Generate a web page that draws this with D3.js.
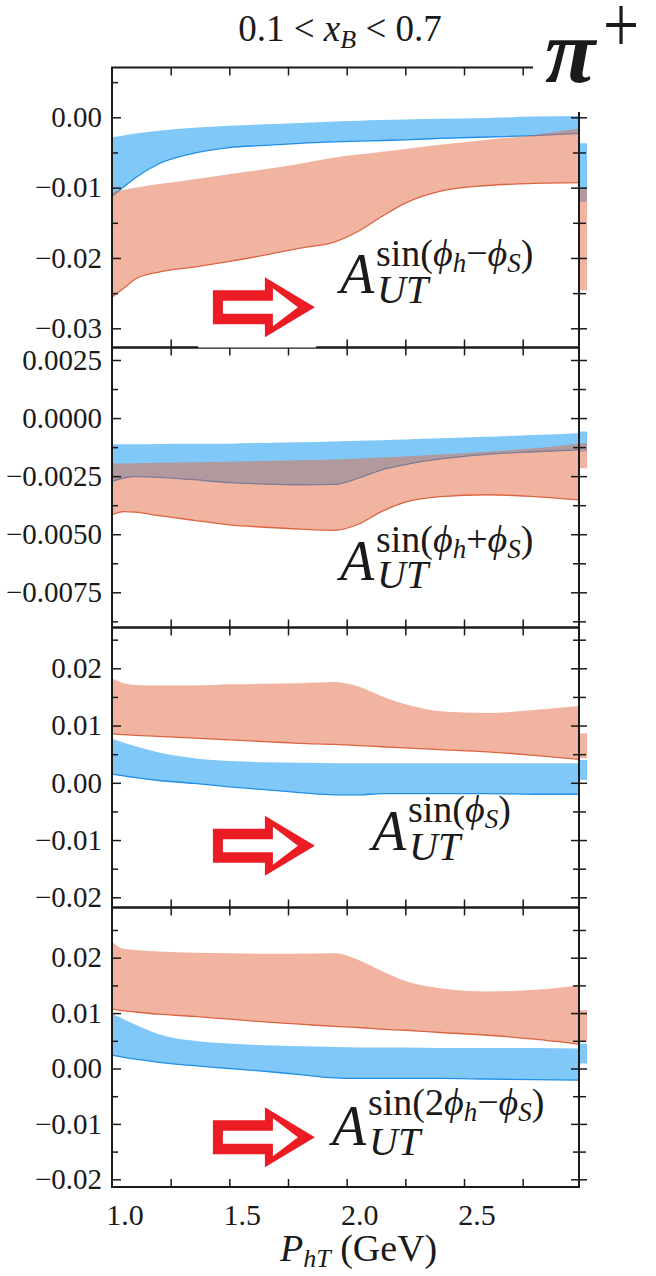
<!DOCTYPE html>
<html><head><meta charset="utf-8">
<script src="https://cdn.jsdelivr.net/npm/d3@7"></script>
<style>
body{margin:0;background:#fff;}
svg{display:block;}
text{font-family:"Liberation Serif","Times New Roman",serif;fill:#1a1a1a;}
</style>
</head><body>
<svg id="c" width="656" height="1276"></svg>
<script>
// ---------------- data ----------------
const pht = [1.0,1.05,1.1,1.2,1.35,1.5,1.65,1.8,1.95,2.05,2.15,2.25,2.4,2.6,2.8,2.99];

// panel 1 : A_UT^{sin(phi_h - phi_S)}
const p1BlueHi = [-0.00285,-0.0026,-0.0023,-0.0019,-0.0015,-0.0012,-0.0010,-0.0008,-0.0006,-0.0005,-0.0004,-0.0003,-0.0002,-0.0001,0.0001,0.0002];
const p1BlueLo = [-0.0112,-0.0099,-0.0086,-0.0066,-0.0051,-0.0043,-0.0040,-0.0037,-0.0035,-0.0034,-0.0033,-0.0032,-0.0030,-0.0028,-0.0026,-0.0023];
const p1RedHi  = [-0.0106,-0.0103,-0.0100,-0.0095,-0.0088,-0.0081,-0.0074,-0.0066,-0.0057,-0.0053,-0.0049,-0.0045,-0.0039,-0.0032,-0.0025,-0.0016];
const p1RedLo  = [-0.0256,-0.0243,-0.0230,-0.0220,-0.0213,-0.0205,-0.0196,-0.0186,-0.0177,-0.0162,-0.0141,-0.0122,-0.0105,-0.0097,-0.0094,-0.0093];

// panel 2 : A_UT^{sin(phi_h + phi_S)}
const p2BlueHi = [-0.00113,-0.00113,-0.00113,-0.00112,-0.00111,-0.00110,-0.00107,-0.00104,-0.00101,-0.00098,-0.00095,-0.00092,-0.00087,-0.00080,-0.00073,-0.00065];
const p2BlueLo = [-0.00273,-0.00258,-0.00252,-0.00255,-0.00265,-0.00278,-0.00284,-0.00287,-0.00285,-0.00259,-0.00223,-0.00200,-0.00176,-0.00156,-0.00145,-0.00137];
const p2RedHi  = [-0.00195,-0.00195,-0.00194,-0.00192,-0.00190,-0.00188,-0.00185,-0.00182,-0.00178,-0.00174,-0.00170,-0.00165,-0.00157,-0.00145,-0.00130,-0.00110];
const p2RedLo  = [-0.00417,-0.00403,-0.00405,-0.00420,-0.00440,-0.00460,-0.00470,-0.00478,-0.00483,-0.00457,-0.00402,-0.00362,-0.00338,-0.00330,-0.00338,-0.00352];

// panel 3 : A_UT^{sin(phi_S)}
const p3BlueHi = [0.0077,0.0070,0.0064,0.0053,0.0043,0.0038,0.0036,0.0035,0.0034,0.0034,0.0034,0.0034,0.0034,0.0034,0.0034,0.0034];
const p3BlueLo = [0.0015,0.0012,0.0009,0.0004,-0.0001,-0.0007,-0.0012,-0.0017,-0.0021,-0.0021,-0.0019,-0.0019,-0.0019,-0.0019,-0.0020,-0.0020];
const p3RedHi  = [0.0182,0.0174,0.0171,0.0170,0.0170,0.0172,0.0173,0.0174,0.0176,0.0168,0.0151,0.0137,0.0125,0.0122,0.0127,0.0134];
const p3RedLo  = [0.0086,0.0084,0.0083,0.0081,0.0078,0.0075,0.0072,0.0069,0.0067,0.0065,0.0063,0.0061,0.0058,0.0054,0.0048,0.0041];

// panel 4 : A_UT^{sin(2phi_h - phi_S)}
const p4BlueHi = [0.0099,0.0089,0.0079,0.0062,0.0050,0.0045,0.0042,0.0040,0.0039,0.0038,0.0038,0.0038,0.0037,0.0037,0.0037,0.0036];
const p4BlueLo = [0.0024,0.0020,0.0017,0.0011,0.0005,0.0000,-0.0005,-0.0011,-0.0017,-0.0018,-0.0018,-0.0018,-0.0018,-0.0019,-0.0020,-0.0021];
const p4RedHi  = [0.0229,0.0216,0.0214,0.0211,0.0209,0.0208,0.0207,0.0207,0.0208,0.0196,0.0176,0.0158,0.0145,0.0139,0.0142,0.0150];
const p4RedLo  = [0.0107,0.0104,0.0102,0.0098,0.0094,0.0089,0.0084,0.0080,0.0076,0.0074,0.0071,0.0069,0.0065,0.0060,0.0053,0.0044];

// bands of the neighbouring (cropped) panel, visible as slivers at the right edge
const nextBlueLo = [-0.0120,-0.00144,0.0005,0.0009];
const nextBlueHi = [-0.0037,-0.00058,0.0040,0.0045];
const nextRedLo  = [-0.0246,-0.00216,0.0043,0.0048];
const nextRedHi  = [-0.0101,-0.00108,0.0086,0.0105];

// axes
const xDomain = [1.0, 2.99];
const xTickVals = [1.0,1.5,2.0,2.5];
const xTickLabels = ["1.0","1.5","2.0","2.5"];
const xMinorVals = [1.25,1.5,1.75,2.0,2.25,2.5,2.75];

const yDomains = [[-0.03273,0.00708],[-0.009015,0.003038],[-0.02178,0.027127],[-0.02139,0.02906]];
const yTickVals = [[0.00,-0.01,-0.02,-0.03],[0.0025,0.0,-0.0025,-0.005,-0.0075],[0.02,0.01,0.0,-0.01,-0.02],[0.02,0.01,0.0,-0.01,-0.02]];
const yTickLabels = [["0.00","\u22120.01","\u22120.02","\u22120.03"],
                     ["0.0025","0.0000","\u22120.0025","\u22120.0050","\u22120.0075"],
                     ["0.02","0.01","0.00","\u22120.01","\u22120.02"],
                     ["0.02","0.01","0.00","\u22120.01","\u22120.02"]];
const yMinorVals = [[0.005,-0.005,-0.015,-0.025],[0.00125,-0.00125,-0.00375,-0.00625,-0.00875],
                    [0.025,0.015,0.005,-0.005,-0.015],[0.025,0.015,0.005,-0.005,-0.015]];

// red arrow annotations (data coords), panel index
const arrowPanels = [0,2,3];
const arrowX = [1.43,1.43,1.43];
const arrowY = [-0.0270,-0.0110,-0.0124];

// ---------------- layout ----------------
const L = 112, R = 579;
const tops = [67.5,347.5,627.5,907.5];
const bots = [347.5,627.5,907.5,1187];
const blueFill = "rgba(1,145,241,0.5)", redFill = "rgba(225,105,65,0.5)";
const blueLine = "#1f8fe8", redLine = "#dc6440";
const axisCol = "#1a1a1a";
const FONT = '"Liberation Serif","Times New Roman",serif';

const bands = [
  [p1BlueLo,p1BlueHi,p1RedLo,p1RedHi],
  [p2BlueLo,p2BlueHi,p2RedLo,p2RedHi],
  [p3BlueLo,p3BlueHi,p3RedLo,p3RedHi],
  [p4BlueLo,p4BlueHi,p4RedLo,p4RedHi]
];

const svg = d3.select("#c");
const x = d3.scaleLinear().domain(xDomain).range([L,R]);
const xN = d3.scaleLinear().domain([0,1]).range([R, R+8]);

const defs = svg.append("defs");

bands.forEach((b,i) => {
  const y = d3.scaleLinear().domain(yDomains[i]).range([bots[i],tops[i]]);
  const g = svg.append("g");
  defs.append("clipPath").attr("id","cp"+i).append("rect")
    .attr("x",L).attr("y",tops[i]).attr("width",R-L).attr("height",bots[i]-tops[i]);
  defs.append("clipPath").attr("id","cn"+i).append("rect")
    .attr("x",R).attr("y",tops[i]).attr("width",8).attr("height",bots[i]-tops[i]);
  const pg = g.append("g").attr("clip-path","url(#cp"+i+")");
  const [bl,bh,rl,rh] = b;
  const idx = d3.range(pht.length);
  const area = (lo,hi) => d3.area().curve(d3.curveMonotoneX)
      .x(k=>x(pht[k])).y0(k=>y(lo[k])).y1(k=>y(hi[k]))(idx);
  const line = (v) => d3.line().curve(d3.curveMonotoneX).x(k=>x(pht[k])).y(k=>y(v[k]))(idx);
  pg.append("path").attr("d",area(bl,bh)).attr("fill",blueFill);
  pg.append("path").attr("d",line(bl)).attr("fill","none").attr("stroke",blueLine).attr("stroke-width",1.3);
  pg.append("path").attr("d",area(rl,rh)).attr("fill",redFill);
  pg.append("path").attr("d",line(rl)).attr("fill","none").attr("stroke",redLine).attr("stroke-width",1.3);

  // neighbour slivers
  const ng = g.append("g").attr("clip-path","url(#cn"+i+")");
  const flat = (lo,hi) => d3.area().x(d=>xN(d)).y0(()=>y(lo)).y1(()=>y(hi))([0,1]);
  ng.append("path").attr("d",flat(nextBlueLo[i],nextBlueHi[i])).attr("fill",blueFill);
  ng.append("path").attr("d",flat(nextRedLo[i],nextRedHi[i])).attr("fill",redFill);

  // axes
  const styleAx = sel => { sel.attr("font-family",FONT); sel.select(".domain").remove(); sel.selectAll("line").attr("stroke",axisCol).attr("stroke-width",1.5); };
  g.append("g").attr("transform",`translate(${L},0)`)
    .call(d3.axisLeft(y).tickValues(yTickVals[i]).tickSize(-9).tickPadding(10).tickFormat((d,j)=>yTickLabels[i][j]))
    .call(styleAx)
    .call(s=>s.selectAll("text").style("font-family",FONT).style("font-size","29px").attr("fill","#1a1a1a"));
  g.append("g").attr("transform",`translate(${L},0)`)
    .call(d3.axisLeft(y).tickValues(yMinorVals[i]).tickSize(-6).tickFormat("")).call(styleAx);
  // right axis: ticks on both sides (shared with cropped neighbour panel)
  [[-8,yTickVals[i]],[-6,yMinorVals[i]],[8,yTickVals[i]],[7,yMinorVals[i]]].forEach(([s,vals])=>{
    g.append("g").attr("transform",`translate(${R},0)`)
      .call(d3.axisRight(y).tickValues(vals).tickSize(s).tickFormat("")).call(styleAx);
  });
  g.append("g").attr("transform",`translate(0,${tops[i]})`)
    .call(d3.axisTop(x).tickValues(xMinorVals).tickSize(-8).tickFormat("")).call(styleAx);
  g.append("g").attr("transform",`translate(0,${bots[i]})`)
    .call(d3.axisBottom(x).tickValues(xMinorVals).tickSize(-8).tickFormat("")).call(styleAx);
  g.append("rect").attr("x",L).attr("y",tops[i]).attr("width",R-L).attr("height",bots[i]-tops[i])
    .attr("fill","none").attr("stroke",axisCol).attr("stroke-width",2);

  // arrows
  const ai = arrowPanels.indexOf(i);
  if (ai >= 0) {
    const ax = x(arrowX[ai]), ay = y(arrowY[ai]);
    const outer = [[0,-17],[52,-17],[52,-30],[102,0],[52,30],[52,17],[0,17]];
    const inner = [[10,-6.5],[60,-6.5],[60,-19],[85,0],[60,19],[60,6.5],[10,6.5]];
    const lp = d3.line();
    g.append("path").attr("d",lp(outer.map(p=>[ax+p[0],ay+p[1]]))+"Z").attr("fill","#ec1c24");
    g.append("path").attr("d",lp(inner.map(p=>[ax+p[0],ay+p[1]]))+"Z").attr("fill","#fff");
  }
});

// erased stretch of the panel-1 bottom border (thin line only, as in the reference)
svg.append("rect").attr("x",x(1.367)).attr("y",339).attr("width",x(1.87)-x(1.367)).attr("height",bots[0]-339).attr("fill","#fff");

// x tick labels (shifted right in the reference)
const xl = svg.append("g");
xTickVals.forEach((v,j)=>{
  xl.append("text").attr("x",x(v)+13).attr("y",1225).attr("text-anchor","middle")
    .style("font-size","30px").text(xTickLabels[j]);
});

// math text helper
function mathText(x0,y0,segs,anchor){
  const t = svg.append("text").attr("x",x0).attr("y",y0);
  if (anchor) t.attr("text-anchor",anchor);
  let cur = 0;
  segs.forEach(s=>{
    const sh = s.sh||0;
    const ts = t.append("tspan").attr("dy",sh-cur).style("font-size",s.fs+"px").text(s.t);
    if (s.it) ts.style("font-style","italic");
    if (s.dx) ts.attr("dx",s.dx);
    cur = sh;
  });
  return t;
}

// title
mathText(340,41,[{t:"0.1 < ",fs:37},{t:"x",fs:37,it:1},{t:"B",fs:26,it:1,sh:7},{t:" < 0.7",fs:37}],"middle");

// x axis title
mathText(280,1261,[{t:"P",fs:38,it:1},{t:"hT",fs:26,it:1,sh:6},{t:" (GeV)",fs:38}]);

// asymmetry labels
function asym(ax,ay,sup,supDy,subDy){
  mathText(ax,ay,[{t:"A",fs:56,it:1}]);
  mathText(ax+36,ay-supDy,sup);
  mathText(ax+37,ay+subDy,[{t:"UT",fs:40,it:1}]);
}
const S = 38, s2 = 27;
asym(340,293,[{t:"sin(",fs:S},{t:"\u03d5",fs:S,it:1},{t:"h",fs:s2,it:1,sh:6},{t:"\u2212",fs:S},{t:"\u03d5",fs:S,it:1},{t:"S",fs:s2,it:1,sh:6},{t:")",fs:S}],27,10);
asym(340,580,[{t:"sin(",fs:S},{t:"\u03d5",fs:S,it:1},{t:"h",fs:s2,it:1,sh:6},{t:"+",fs:S},{t:"\u03d5",fs:S,it:1},{t:"S",fs:s2,it:1,sh:6},{t:")",fs:S}],28,8);
asym(372,850,[{t:"sin(",fs:S},{t:"\u03d5",fs:S,it:1},{t:"S",fs:s2,it:1,sh:6},{t:")",fs:S}],28,10);
asym(332,1145,[{t:"sin(2",fs:S},{t:"\u03d5",fs:S,it:1},{t:"h",fs:s2,it:1,sh:6},{t:"\u2212",fs:S},{t:"\u03d5",fs:S,it:1},{t:"S",fs:s2,it:1,sh:6},{t:")",fs:S}],30,10);

// pi+ label over white patch
svg.append("rect").attr("x",533).attr("y",0).attr("width",123).attr("height",112).attr("fill","#fff");
svg.append("text").attr("x",545).attr("y",82).style("font-size","92px").style("font-style","italic").style("font-weight","bold").text("\u03c0");
svg.append("text").attr("transform","translate(603,52) scale(1,1.25)").style("font-size","64px").text("+");
</script>
</body></html>
